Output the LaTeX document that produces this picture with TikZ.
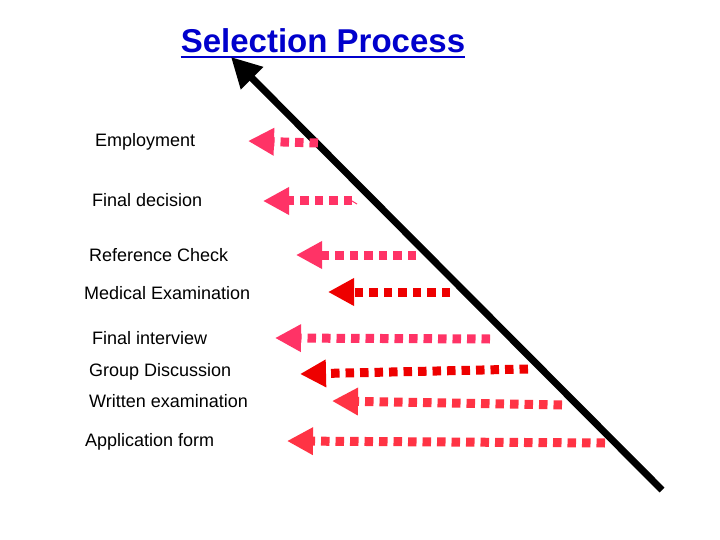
\documentclass[tikz,border=0pt]{standalone}
\usepackage{fontspec}
\setmainfont{Liberation Sans}
\usetikzlibrary{arrows.meta}
\definecolor{pinkr}{HTML}{FF3366}
\definecolor{redr}{HTML}{EE0000}
\definecolor{redp}{HTML}{FF3344}
\definecolor{titleblue}{HTML}{0000CC}
\tikzset{
  lab/.style={anchor=base west, inner sep=0pt, font=\fontsize{18}{20}\selectfont},
  dotarrow/.style={line width=9pt, dash pattern=on 8.5pt off 6pt,
     -{Triangle[length=26pt,width=26pt]}},
}
\begin{document}
\begin{tikzpicture}[x=1pt,y=-1pt]
\useasboundingbox[fill=white] (0,0) rectangle (720,540);
% title
\node[anchor=base, inner sep=0pt, text=titleblue, font=\fontsize{33}{36}\selectfont\bfseries] (title) at (323,53) {Selection Process};
\draw[titleblue, line width=2pt] ([yshift=-4pt]title.base west) -- ([yshift=-4pt]title.base east);
% main black arrow
\coordinate (bstart) at (662,490);
\coordinate (btip) at (231,57);
\draw[line width=7pt, -{Triangle[length=30pt,width=30pt]}] (bstart) -- (btip);
% labels
\node[lab] (l1) at (95,147) {Employment};
\node[lab] (l2) at (92,207) {Final decision};
\node[lab] (l3) at (89,261) {Reference Check};
\node[lab] (l4) at (84,299) {Medical Examination};
\node[lab] (l5) at (92,344) {Final interview};
\node[lab] (l6) at (89,376) {Group Discussion};
\node[lab] (l7) at (89,407) {Written examination};
\node[lab] (l8) at (85,446) {Application form};
% dotted arrows
\coordinate (s1) at (318,143); \coordinate (t1) at (248,141);
\coordinate (s2) at (352,201); \coordinate (t2) at (263,201);
\coordinate (s3) at (416,255); \coordinate (t3) at (296,255);
\coordinate (s4) at (450,292); \coordinate (t4) at (328,292);
\coordinate (s5) at (490,339); \coordinate (t5) at (275,338);
\coordinate (s6) at (528,369); \coordinate (t6) at (300,374);
\coordinate (s7) at (562,405); \coordinate (t7) at (332,401);
\coordinate (s8) at (605,443); \coordinate (t8) at (287,441);
\draw[dotarrow, pinkr] (s1) -- (t1);
\draw[dotarrow, pinkr] (s2) -- (t2);
\draw[pinkr, line width=1pt] (s2) -- ++(5,3);
\draw[dotarrow, pinkr] (s3) -- (t3);
\draw[dotarrow, redr] (s4) -- (t4);
\draw[dotarrow, pinkr] (s5) -- (t5);
\draw[dotarrow, redr] (s6) -- (t6);
\draw[dotarrow, redp] (s7) -- (t7);
\draw[dotarrow, redp] (s8) -- (t8);
\end{tikzpicture}
\end{document}
